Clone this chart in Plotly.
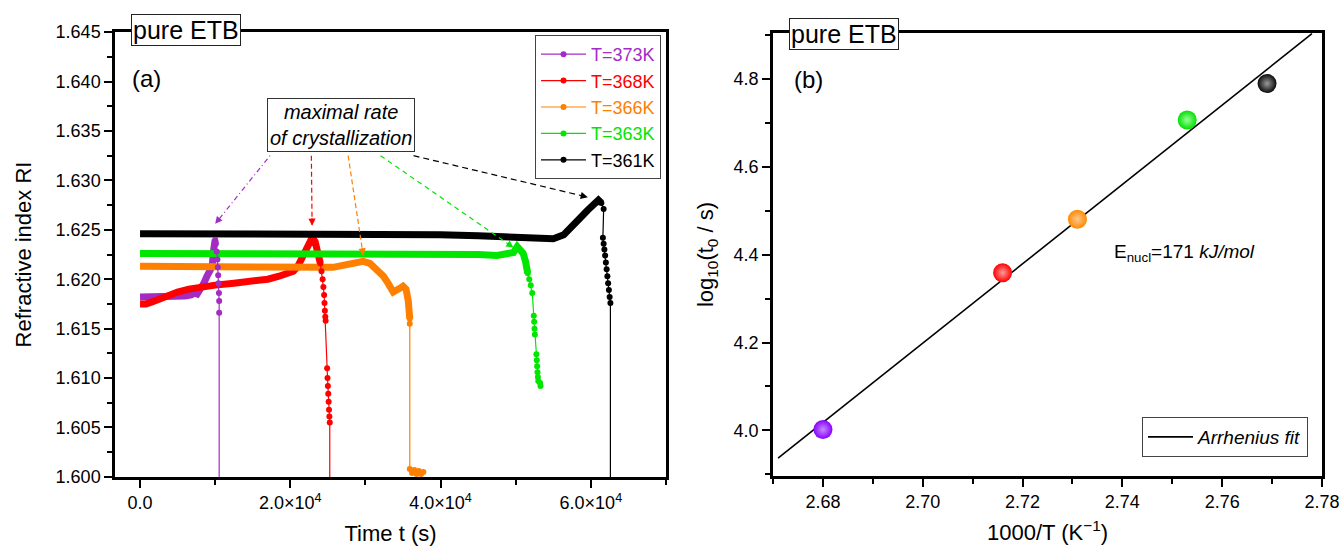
import numpy as np
import plotly.graph_objects as go

# ---------------- panel (a): refractive index during isothermal runs ----------------
labels = ["T=373K", "T=368K", "T=366K", "T=363K", "T=361K"]
line_colors = ["#A32CC4", "#FF0000", "#FF8000", "#00E600", "#000000"]

# densely sampled part of each run (s, RI)
t373_dense = [0, 1000, 2000, 3000, 4000, 5000, 6000, 6800, 7200, 7600, 8000, 8500, 8900, 9300, 9600, 9800, 10000]
ri373_dense = [1.6182, 1.6182, 1.6182, 1.6182, 1.6182, 1.6182, 1.6183, 1.6184, 1.6186, 1.6185, 1.6189,
               1.6196, 1.6203, 1.6208, 1.6213, 1.6230, 1.6240]
t368_dense = [0, 800, 1600, 2500, 3600, 5000, 6500, 8000, 10000, 12500, 15000, 17000, 18500, 19500, 20400,
              21000, 21500, 22000, 22500, 22900, 23300, 23700, 24000]
ri368_dense = [1.6175, 1.6175, 1.6177, 1.6180, 1.6184, 1.6187, 1.6190, 1.6192, 1.6194, 1.6196, 1.6198, 1.6200,
               1.6203, 1.6205, 1.6208, 1.6213, 1.6220, 1.6228, 1.6236, 1.6242, 1.6238, 1.6228, 1.6216]
t366_dense = [0, 5000, 10000, 15000, 20000, 23000, 25700, 27000, 28400, 29700, 30600, 31600, 32400, 33000,
              33700, 34400, 35000, 35400, 35700, 35900]
ri366_dense = [1.6213, 1.6213, 1.6213, 1.6213, 1.6213, 1.6213, 1.6212, 1.6214, 1.6216, 1.6218, 1.6216, 1.6210,
               1.6203, 1.6196, 1.6187, 1.6190, 1.6193, 1.6190, 1.6178, 1.6160]
t363_dense = [0, 10000, 20000, 30000, 40000, 45000, 47500, 48500, 49700, 50200, 50600, 51000, 51300, 51600]
ri363_dense = [1.6226, 1.6226, 1.6226, 1.6226, 1.6226, 1.6225, 1.6224, 1.6225, 1.6227, 1.6233, 1.6230, 1.6226,
               1.6218, 1.6206]
t361_dense = [0, 10000, 20000, 30000, 40000, 45000, 50000, 53000, 55000, 56400, 57700, 58700, 59600, 60400,
              61000, 61400]
ri361_dense = [1.6246, 1.6246, 1.6246, 1.6246, 1.6245, 1.6244, 1.6243, 1.6242, 1.6241, 1.6245, 1.6254, 1.6263,
               1.6270, 1.6277, 1.6280, 1.6277]

# sparsely sampled drop after solidification (last value lies below the axis)
t373_drop = [10000, 10100, 10200, 10300, 10350, 10400, 10450, 10500, 10530, 10530, 10530]
ri373_drop = [1.6240, 1.6236, 1.6228, 1.6220, 1.6212, 1.6204, 1.6196, 1.6186, 1.6178, 1.6166, 1.5900]
t368_drop = [24000, 24150, 24300, 24400, 24500, 24550, 24600, 24650, 24700, 24900, 24950, 25000, 25050, 25100,
             25150, 25200, 25250, 25250]
ri368_drop = [1.6216, 1.6208, 1.6200, 1.6192, 1.6184, 1.6176, 1.6168, 1.6162, 1.6158, 1.6110, 1.6100, 1.6092,
              1.6084, 1.6076, 1.6068, 1.6061, 1.6055, 1.5900]
t366_drop = [35900, 35900, 35900, 36200, 36500, 36800, 37100, 37400, 37700]
ri366_drop = [1.6160, 1.6155, 1.6008, 1.6004, 1.6007, 1.6003, 1.6006, 1.6003, 1.6005]
t363_drop = [51600, 51800, 52000, 52200, 52400, 52450, 52500, 52550, 52750, 52800, 52850, 52900, 52950, 53000,
             53250, 53300]
ri363_drop = [1.6206, 1.6200, 1.6194, 1.6186, 1.6163, 1.6157, 1.6150, 1.6144, 1.6124, 1.6118, 1.6112, 1.6106,
              1.6101, 1.6097, 1.6095, 1.6092]
t361_drop = [61400, 61700, 61600, 61700, 61800, 61900, 62000, 62100, 62200, 62300, 62400, 62500, 62600, 62600]
ri361_drop = [1.6277, 1.6271, 1.6242, 1.6236, 1.6230, 1.6224, 1.6217, 1.6210, 1.6203, 1.6196, 1.6189, 1.6182,
              1.6176, 1.5900]

# "maximal rate of crystallization" pointers: tail at the label box, tip near each maximum
arrow_tail_t = [17300, 22800, 27700, 32000, 36400]
arrow_tail_ri = [1.6325, 1.6325, 1.6325, 1.6325, 1.6325]
arrow_tip_t = [10000, 22900, 29700, 49700, 59600]
arrow_tip_ri = [1.6256, 1.6254, 1.6224, 1.6232, 1.6283]
arrow_dash = ["1px,3px,5px,3px", "5px,3px", "5px,3px", "5px,4px", "6px,4px"]

a_xticks = [0, 20000, 40000, 60000]
a_xticktext = ["0.0", "2.0×10<sup>4</sup>", "4.0×10<sup>4</sup>", "6.0×10<sup>4</sup>"]
a_yticks = [1.600, 1.605, 1.610, 1.615, 1.620, 1.625, 1.630, 1.635, 1.640, 1.645]

# ---------------- panel (b): Arrhenius plot of onset times ----------------
inv_T = [2.680, 2.716, 2.731, 2.753, 2.769]          # 1000/T (1/K)
log_t0 = [4.002, 4.359, 4.481, 4.707, 4.790]         # log10(t0 / s)
ball_colors = ["#8A00FF", "#FF0000", "#FF8A00", "#00E000", "#0A0A0A"]
ball_shine = ["#C58CFF", "#FF9A9A", "#FFC890", "#9CFF9C", "#9A9A9A"]
b_xticks = [2.68, 2.70, 2.72, 2.74, 2.76, 2.78]
b_yticks = [4.0, 4.2, 4.4, 4.6, 4.8]

slope, intercept = np.polyfit(inv_T, log_t0, 1)
fit_x = np.array([2.671, 2.778])
fit_y = slope * fit_x + intercept

# ---------------- geometry (pixels of the 1339 x 546 page) ----------------
W, H = 1339, 546
ML, MR, MT, MB = 115, 17, 32, 69            # outer margins around both panels
PW, PH = W - ML - MR, H - MT - MB            # plotting region
a_box = (115, 666, 32, 477)                  # left, right, top, bottom
b_box = (773, 1322, 33, 476)


def px_to_paper(px, py):
    return (px - ML) / PW, 1 - (py - MT) / PH


def box_domain(box):
    l, r, t, b = box
    x0, y1 = px_to_paper(l, t)
    x1, y0 = px_to_paper(r, b)
    return [max(0.0, x0), min(1.0, x1)], [max(0.0, y0), min(1.0, y1)]


a_dom_x, a_dom_y = box_domain(a_box)
b_dom_x, b_dom_y = box_domain(b_box)
a_xrange = [-3333, 70000]
a_yrange = [1.59999, 1.64501]
b_xrange = [2.66999, 2.78001]
b_yrange = [3.896, 4.905]

FONT = "Arial, Liberation Sans, sans-serif"

fig = go.Figure()

dense = [(t373_dense, ri373_dense), (t368_dense, ri368_dense), (t366_dense, ri366_dense),
         (t363_dense, ri363_dense), (t361_dense, ri361_dense)]
drops = [(t373_drop, ri373_drop), (t368_drop, ri368_drop), (t366_drop, ri366_drop),
         (t363_drop, ri363_drop), (t361_drop, ri361_drop)]

for lab, col, (tt, rr) in zip(labels, line_colors, dense):
    fig.add_trace(go.Scatter(x=tt, y=rr, mode="lines", line=dict(color=col, width=7),
                             legendgroup=lab, showlegend=False, hoverinfo="skip",
                             xaxis="x", yaxis="y"))
for lab, col, (tt, rr) in zip(labels, line_colors, drops):
    fig.add_trace(go.Scatter(x=tt, y=rr, mode="lines+markers",
                             line=dict(color=col, width=1.2),
                             marker=dict(size=6, color=col, symbol="circle"),
                             name=f'<span style="color:{col}">{lab}</span>',
                             legendgroup=lab, xaxis="x", yaxis="y"))

fig.add_trace(go.Scatter(x=fit_x, y=fit_y, mode="lines", line=dict(color="black", width=1.6),
                         name="<i>Arrhenius fit</i>", legend="legend2", xaxis="x2", yaxis="y2"))
fig.add_trace(go.Scatter(x=inv_T, y=log_t0, mode="markers", showlegend=False,
                         marker=dict(size=19, color=ball_colors,
                                     gradient=dict(type="radial", color=ball_shine)),
                         xaxis="x2", yaxis="y2"))

# dashed pointers with arrowheads
sx = (a_dom_x[1] - a_dom_x[0]) * PW / (a_xrange[1] - a_xrange[0])
sy = (a_dom_y[1] - a_dom_y[0]) * PH / (a_yrange[1] - a_yrange[0])
shapes = []
annotations = []
for t0_, r0_, t1_, r1_, col, dash in zip(arrow_tail_t, arrow_tail_ri, arrow_tip_t, arrow_tip_ri,
                                         line_colors, arrow_dash):
    shapes.append(dict(type="line", xref="x", yref="y", x0=t0_, y0=r0_, x1=t1_, y1=r1_,
                       line=dict(color=col, width=1.2, dash=dash)))
    dxp = (t0_ - t1_) * sx
    dyp = -(r0_ - r1_) * sy
    n = (dxp ** 2 + dyp ** 2) ** 0.5
    annotations.append(dict(x=t1_, y=r1_, xref="x", yref="y", text="", showarrow=True,
                            ax=dxp / n * 9, ay=dyp / n * 9, arrowhead=2, arrowsize=1.2,
                            arrowwidth=1.2, arrowcolor=col))

txt = dict(showarrow=False, xref="paper", yref="paper", xanchor="center", yanchor="middle")
for (px, py), s in [((186, 30), "pure ETB"), ((844, 34), "pure ETB")]:
    x, y = px_to_paper(px, py)
    annotations.append(dict(x=x, y=y, text=s, font=dict(size=25, color="black", family=FONT),
                            bordercolor="#222", borderwidth=1, borderpad=1, bgcolor="white", **txt))
for (px, py), s in [((146, 78), "(a)"), ((808, 79), "(b)")]:
    x, y = px_to_paper(px, py)
    annotations.append(dict(x=x, y=y, text=s, font=dict(size=24, color="black", family=FONT), **txt))
x, y = px_to_paper(341, 125)
annotations.append(dict(x=x, y=y, text="<i>maximal rate<br>of crystallization</i>",
                        font=dict(size=20, color="black", family=FONT), bordercolor="#333",
                        borderwidth=1, borderpad=2, bgcolor="white", **txt))
x, y = px_to_paper(1112, 253)
annotations.append(dict(x=x, y=y, text="E<sub>nucl</sub>=171 <i>kJ/mol</i>",
                        font=dict(size=19, color="black", family=FONT),
                        **{**txt, "xanchor": "left"}))

# boxed axes: solid frame on all four sides, ticks only on bottom/left
axis_common = dict(showline=True, linewidth=2.5, linecolor="black", mirror=True,
                   ticks="outside", ticklen=8, tickwidth=2, tickcolor="black",
                   showgrid=False, zeroline=False, ticklabeloverflow="allow",
                   tickfont=dict(size=18, color="black", family=FONT), automargin=False)
minor_common = dict(ticks="outside", ticklen=5, tickwidth=2, tickcolor="black", showgrid=False)

lx, ly = px_to_paper(661, 35)
l2x, l2y = px_to_paper(1308, 457)
fig.update_layout(
    width=W, height=H, margin=dict(l=ML, r=MR, t=MT, b=MB, autoexpand=False),
    paper_bgcolor="white", plot_bgcolor="white",
    font=dict(family=FONT, color="black"),
    xaxis=dict(domain=a_dom_x, range=a_xrange, anchor="y", tickmode="array", tickvals=a_xticks,
               ticktext=a_xticktext, minor=dict(dtick=10000, tick0=0, **minor_common),
               title=dict(text="Time t (s)", font=dict(size=22), standoff=17), **axis_common),
    yaxis=dict(domain=a_dom_y, range=a_yrange, anchor="x", tickmode="array", tickvals=a_yticks,
               tickformat=".3f", minor=dict(dtick=0.0025, tick0=1.6, **minor_common),
               title=dict(text="Refractive index RI", font=dict(size=22), standoff=18), **axis_common),
    xaxis2=dict(domain=b_dom_x, range=b_xrange, anchor="y2", tickmode="array", tickvals=b_xticks,
                tickformat=".2f", minor=dict(dtick=0.01, tick0=2.67, **minor_common),
                title=dict(text="1000/T (K<sup>−1</sup>)", font=dict(size=22), standoff=14), **axis_common),
    yaxis2=dict(domain=b_dom_y, range=b_yrange, anchor="x2", tickmode="array", tickvals=b_yticks,
                tickformat=".1f", minor=dict(dtick=0.1, tick0=3.9, **minor_common),
                title=dict(text="log<sub>10</sub>(t<sub>0</sub> / s)", font=dict(size=22), standoff=14),
                **axis_common),
    legend=dict(x=lx, y=ly, xanchor="right", yanchor="top", bgcolor="white",
                bordercolor="#444", borderwidth=1, font=dict(size=18, family=FONT),
                tracegroupgap=0, itemwidth=45),
    legend2=dict(x=l2x, y=l2y, xanchor="right", yanchor="bottom", bgcolor="white",
                 bordercolor="#444", borderwidth=1, font=dict(size=19, family=FONT), itemwidth=45),
    shapes=shapes, annotations=annotations, showlegend=True,
)

fig.write_html("out.html")
